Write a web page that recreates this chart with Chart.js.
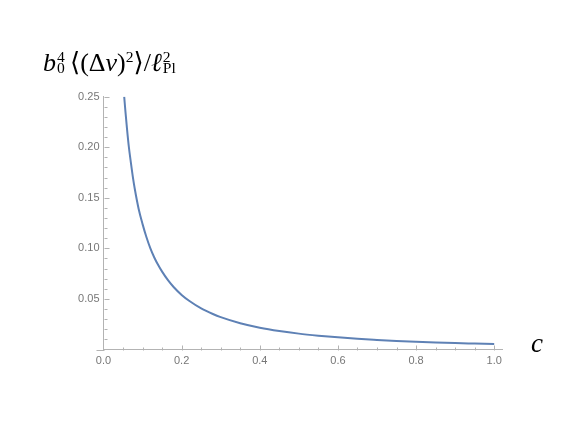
<!DOCTYPE html>
<html>
<head>
<meta charset="utf-8">
<script src="https://cdn.jsdelivr.net/npm/chart.js@4/dist/chart.umd.min.js"></script>
<style>
  html, body { margin: 0; padding: 0; background: #fff; }
  #wrap { position: relative; width: 569px; height: 427px; }
  canvas { position: absolute; left: 0; top: 0; }
  .lab { position: absolute; font-family: "Liberation Serif", "DejaVu Serif", serif; color: #000; white-space: nowrap; line-height: 1.2; }
  .ss { display: inline-flex; flex-direction: column; font-size: 0.6em; line-height: 0.72; vertical-align: 9px; margin-left: 1px; }
  sup { font-size: 0.6em; vertical-align: 9px; line-height: 0; }
</style>
</head>
<body>
<div id="wrap">
  <canvas id="grafico" width="569" height="427"></canvas>
  <div class="lab" id="ylab" style="left:43px; top:47px; font-size:26px;"><i>b</i><span class="ss"><span>4</span><span>0</span></span>&thinsp;⟨(Δ<i>v</i>)<sup>2</sup>⟩/<i>ℓ</i><span class="ss"><span>2</span><span>Pl</span></span></div>
  <div class="lab" id="xlab" style="left:531px; top:327px; font-size:27px;"><i>c</i></div>
</div>
<script>
// valores
const cValores = [0.053, 0.056, 0.06, 0.065, 0.07, 0.075, 0.08, 0.09, 0.1, 0.11,
  0.12, 0.13, 0.14, 0.15, 0.165, 0.18, 0.2, 0.22, 0.25, 0.28,
  0.3, 0.35, 0.4, 0.45, 0.5, 0.55, 0.6, 0.65, 0.7, 0.75,
  0.8, 0.85, 0.9, 0.95, 1.0];
const dvValores = [0.25, 0.236, 0.219, 0.2, 0.185, 0.171, 0.159, 0.139, 0.124, 0.111,
  0.1, 0.091, 0.0835, 0.077, 0.0686, 0.0616, 0.054, 0.048, 0.0407, 0.0351,
  0.032, 0.026, 0.0216, 0.0183, 0.0157, 0.0137, 0.012, 0.0106, 0.0095, 0.0085,
  0.0077, 0.007, 0.0064, 0.0059, 0.0054];
const xTicks = [0, 0.2, 0.4, 0.6, 0.8, 1.0];
const yTicks = [0.05, 0.10, 0.15, 0.20, 0.25];

const gris = '#b3b3b3';
const esMultiplo = (v, paso) => Math.abs(v / paso - Math.round(v / paso)) < 1e-6;
const enLista = (lista, v) => lista.some(t => Math.abs(t - v) < 1e-6);

// ticks hacia adentro, estilo Mathematica
const ticksInternos = {
  id: 'ticksInternos',
  afterDraw(chart) {
    const ctx = chart.ctx;
    const x = chart.scales.x;
    const y = chart.scales.y;
    const y0 = Math.round(y.getPixelForValue(0)) + 0.5;
    const x0 = Math.round(x.getPixelForValue(0)) + 0.5;
    ctx.save();
    ctx.strokeStyle = gris;
    ctx.lineWidth = 1;
    ctx.beginPath();
    x.ticks.forEach(t => {
      if (t.value <= 0 || !esMultiplo(t.value, 0.05)) return;
      const px = Math.round(x.getPixelForValue(t.value)) + 0.5;
      const largo = enLista(xTicks, t.value) ? 5 : 3;
      ctx.moveTo(px, y0);
      ctx.lineTo(px, y0 - largo);
    });
    y.ticks.forEach(t => {
      if (t.value <= 0 || !esMultiplo(t.value, 0.01)) return;
      const py = Math.round(y.getPixelForValue(t.value)) + 0.5;
      const largo = enLista(yTicks, t.value) ? 5 : 3;
      ctx.moveTo(x0, py);
      ctx.lineTo(x0 + largo, py);
    });
    // eje x un poco a la izquierda del origen
    ctx.moveTo(x0 - 8, y0);
    ctx.lineTo(x0, y0);
    ctx.stroke();
    ctx.restore();
  }
};

const canvas = document.querySelector('#grafico');
const fuente = { family: 'Liberation Sans', size: 11 };

new Chart(canvas, {
  type: 'line',
  data: {
    datasets: [{
      data: cValores.map((c, i) => ({ x: c, y: dvValores[i] })),
      borderColor: '#5e81b5',
      borderWidth: 2,
      pointRadius: 0,
      cubicInterpolationMode: 'monotone',
      fill: false
    }]
  },
  options: {
    responsive: false,
    animation: false,
    layout: { padding: { left: 43.5, right: 67, top: 96.7, bottom: 47.5 } },
    plugins: { legend: { display: false }, tooltip: { enabled: false } },
    scales: {
      x: {
        type: 'linear',
        min: 0,
        max: 1.02,
        afterFit: (s) => { s.height = 30; },
        grid: { display: true, drawOnChartArea: false, drawTicks: false },
        border: { color: gris },
        ticks: {
          stepSize: 0.05,
          includeBounds: false,
          autoSkip: false,
          maxRotation: 0,
          padding: 5,
          color: '#777',
          font: fuente,
          callback: (v) => enLista(xTicks, v) ? v.toFixed(1) : ''
        }
      },
      y: {
        type: 'linear',
        min: 0,
        max: 0.25,
        afterFit: (s) => { s.width = 60; },
        grid: { display: true, drawOnChartArea: false, drawTicks: false },
        border: { color: gris },
        ticks: {
          stepSize: 0.01,
          includeBounds: false,
          autoSkip: false,
          padding: 4,
          color: '#777',
          font: fuente,
          callback: (v) => enLista(yTicks, v) ? v.toFixed(2) : ''
        }
      }
    }
  },
  plugins: [ticksInternos]
});
</script>
</body>
</html>
